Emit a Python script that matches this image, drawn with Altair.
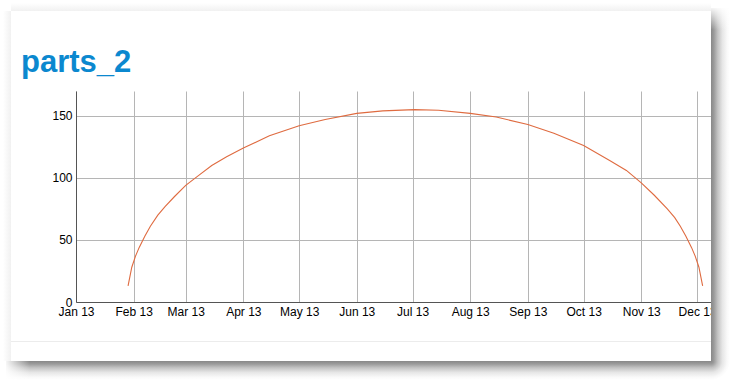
import altair as alt
import pandas as pd

# ---- data ----
dates = ["2013-01-29", "2013-01-31", "2013-02-02", "2013-02-04", "2013-02-07", "2013-02-10",
         "2013-02-14", "2013-02-18", "2013-02-23", "2013-03-01", "2013-03-08", "2013-03-15",
         "2013-03-23", "2013-04-01", "2013-04-15", "2013-05-01", "2013-05-15", "2013-06-01",
         "2013-06-15", "2013-07-02", "2013-07-15", "2013-08-01", "2013-08-15", "2013-09-01",
         "2013-09-15", "2013-10-01", "2013-10-15", "2013-10-24", "2013-11-01", "2013-11-08",
         "2013-11-15", "2013-11-19", "2013-11-22", "2013-11-25", "2013-11-28", "2013-11-30",
         "2013-12-02", "2013-12-04"]
values = [13, 28, 37, 44, 53, 61,
          70, 77, 85, 94, 102, 110,
          117, 124, 134, 142, 147, 152,
          154, 155, 154.5, 152, 149, 143,
          136, 126, 114, 106, 96, 86,
          75, 68, 61, 53, 44, 37,
          28, 13]
tick_months = list(range(1, 13))
y_ticks = [0, 50, 100, 150]
title_text = "parts_2"

df = pd.DataFrame({"date": dates, "value": values})

# geometry helpers (pixel page coords -> plot coords)
L, T = 76, 91
W, H = 635, 211
def px(x):
    return x - L
def py(y):
    return y - T

one = pd.DataFrame({"k": [0]})

line = alt.Chart(df).mark_line(color="#df6b40", strokeWidth=1.1).encode(
    x=alt.X("date:T",
            scale=alt.Scale(type="utc",
                            domain=[alt.DateTime(year=2013, month=1, date=1, utc=True),
                                    alt.DateTime(year=2013, month=12, date=8, hours=12, utc=True)]),
            axis=alt.Axis(title=None, labelExpr="utcFormat(datum.value, '%b %y')",
                          values=[alt.DateTime(year=2013, month=m, date=1, utc=True) for m in tick_months],
                          labelFlush=False, labelOverlap=False, ticks=False,
                          labelPadding=4, labelFontSize=12, labelFont="Liberation Sans",
                          labelColor="#000", domainColor="#555", gridColor="#b5b5b5",
                          gridWidth=1, zindex=0)),
    y=alt.Y("value:Q",
            scale=alt.Scale(domain=[0, 170], nice=False),
            axis=alt.Axis(title=None, values=y_ticks, labelFlush=False, ticks=False,
                          labelPadding=4, labelFontSize=12, labelFont="Liberation Sans",
                          labelColor="#000", domainColor="#555", gridColor="#b5b5b5",
                          gridWidth=1, zindex=0)),
)

sep = alt.Chart(one).mark_rule(color="#ececec", strokeWidth=1).encode(
    x=alt.value(px(11)), x2=alt.value(px(711)), y=alt.value(py(341.5)))

stops = [alt.GradientStop(color="#888888", offset=0),
         alt.GradientStop(color="#9a9a9a", offset=0.15),
         alt.GradientStop(color="#c2c2c2", offset=0.35),
         alt.GradientStop(color="#e6e6e6", offset=0.6),
         alt.GradientStop(color="#f9f9f9", offset=0.85),
         alt.GradientStop(color="#ffffff", offset=1)]

right_sh = alt.Chart(one).mark_rect(
    fill=alt.Gradient(gradient="linear", stops=stops, x1=0, x2=1, y1=0, y2=0)).encode(
    x=alt.value(px(711)), x2=alt.value(px(730)), y=alt.value(py(8)), y2=alt.value(py(362)))
bottom_sh = alt.Chart(one).mark_rect(
    fill=alt.Gradient(gradient="linear", stops=stops, x1=0, x2=0, y1=0, y2=1)).encode(
    x=alt.value(px(6)), x2=alt.value(px(711)), y=alt.value(py(361)), y2=alt.value(py(380)))
corner_sh = alt.Chart(one).mark_rect(
    fill=alt.Gradient(gradient="radial", stops=stops, x1=0, y1=0, r1=0, x2=0, y2=0, r2=1)).encode(
    x=alt.value(px(711)), x2=alt.value(px(730)), y=alt.value(py(361)), y2=alt.value(py(380)))

fade_stops = [alt.GradientStop(color="rgba(255,255,255,1)", offset=0),
              alt.GradientStop(color="rgba(255,255,255,0)", offset=1)]
right_fade = alt.Chart(one).mark_rect(
    fill=alt.Gradient(gradient="linear", stops=fade_stops, x1=0, x2=0, y1=0, y2=1)).encode(
    x=alt.value(px(711)), x2=alt.value(px(730)), y=alt.value(py(6)), y2=alt.value(py(30)))
bottom_fade = alt.Chart(one).mark_rect(
    fill=alt.Gradient(gradient="linear", stops=fade_stops, x1=0, x2=1, y1=0, y2=0)).encode(
    x=alt.value(px(4)), x2=alt.value(px(30)), y=alt.value(py(361)), y2=alt.value(py(380)))

top_stops = [alt.GradientStop(color="#ffffff", offset=0),
             alt.GradientStop(color="#f1f1f1", offset=1)]
top_sh = alt.Chart(one).mark_rect(
    fill=alt.Gradient(gradient="linear", stops=top_stops, x1=0, x2=0, y1=0, y2=1)).encode(
    x=alt.value(px(11)), x2=alt.value(px(711)), y=alt.value(py(3)), y2=alt.value(py(11)))
left_sh = alt.Chart(one).mark_rect(
    fill=alt.Gradient(gradient="linear", stops=top_stops, x1=0, x2=1, y1=0, y2=0)).encode(
    x=alt.value(px(3)), x2=alt.value(px(11)), y=alt.value(py(11)), y2=alt.value(py(361)))

title = alt.Chart(one).mark_text(
    text=title_text, font="Liberation Sans", fontSize=31, fontWeight="bold",
    color="#0b88cf", align="left", baseline="alphabetic").encode(
    x=alt.value(px(21)), y=alt.value(py(72)))

chart = alt.layer(
    line, sep, top_sh, left_sh, right_sh, bottom_sh, corner_sh, right_fade, bottom_fade, title
).properties(
    width=W, height=H,
    padding={"left": L, "top": T, "right": 730 - L - W, "bottom": 380 - T - H},
    autosize=alt.AutoSizeParams(type="none"),
    background="#ffffff",
).configure_view(stroke=None)

chart.save("out.html", embed_options={"renderer": "svg", "actions": False})
